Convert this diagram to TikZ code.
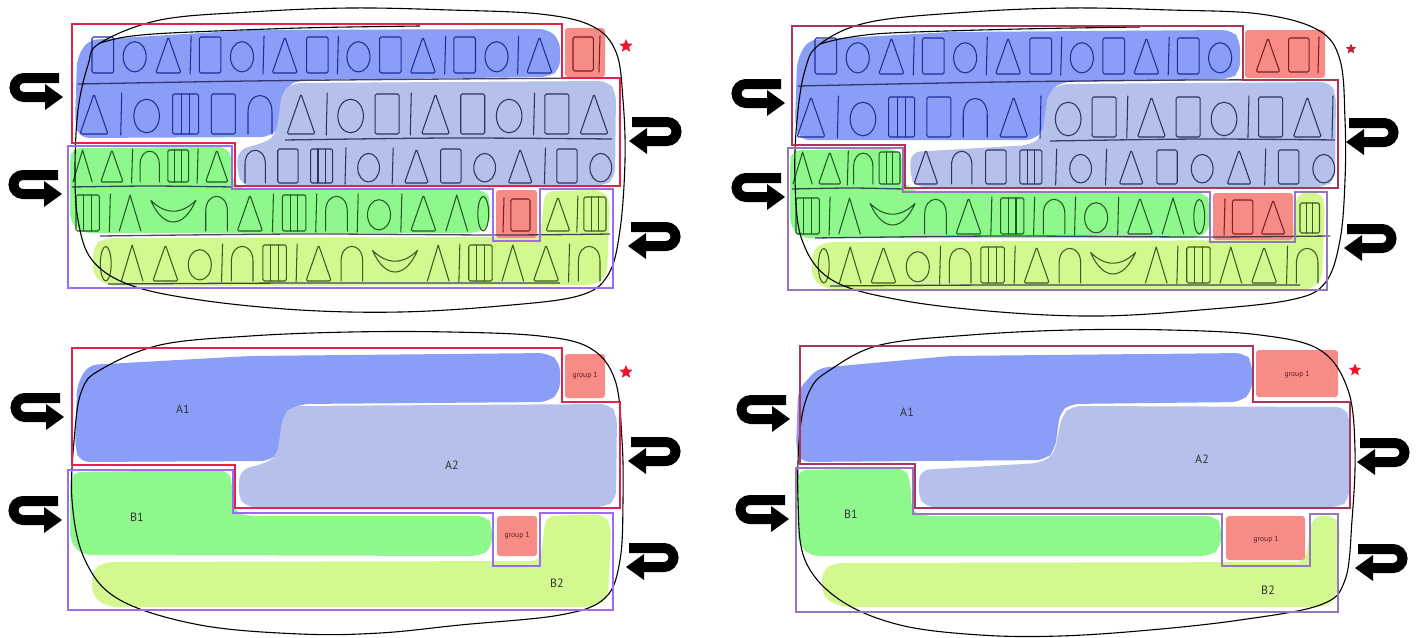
\documentclass[tikz,border=0pt]{standalone}
\usepackage{fontspec}
\setmainfont{PT Sans}
\usetikzlibrary{shapes.geometric}
\definecolor{cA1}{HTML}{8A9EF8}
\definecolor{cA2}{HTML}{B5C1EA}
\definecolor{cB1}{HTML}{8EF88C}
\definecolor{cB2}{HTML}{D3F890}
\definecolor{cG}{HTML}{F78B86}
\definecolor{redL}{HTML}{E2244C}
\definecolor{redR}{HTML}{B03459}
\definecolor{purL}{HTML}{9D6CF0}
\definecolor{purR}{HTML}{9876BC}
\definecolor{inkA1}{HTML}{1E2C9C}
\definecolor{inkA2}{HTML}{2B3268}
\definecolor{inkB1}{HTML}{1D5A1D}
\definecolor{inkB2}{HTML}{3F5A1A}
\definecolor{inkG}{HTML}{7A1E22}
\definecolor{starL}{HTML}{EE1430}
\definecolor{starR}{HTML}{C02038}
\definecolor{sepc}{HTML}{262650}
% glyph widths (in units of glyph height)
\def\gwR{0.6}\def\gwO{0.66}\def\gwT{0.7}\def\gwB{0}\def\gwN{0.6}
\def\gwM{0.65}\def\gwL{0.6}\def\gwV{1.25}\def\gwE{0.32}
% glyphs: #1 left x, #2 bottom y, #3 height
\newcommand\glR[3]{\draw[rounded corners=1.5] (#1,#2) rectangle ++(0.6*#3,-#3);}
\newcommand\glO[3]{\draw (#1+0.33*#3,#2-0.45*#3) ellipse[x radius=0.32*#3,y radius=0.42*#3];}
\newcommand\glT[3]{\draw[rounded corners=1.5] (#1,#2) -- (#1+0.35*#3,#2-#3) -- (#1+0.7*#3,#2) -- cycle;}
\newcommand\glB[3]{\draw (#1,#2+1) -- (#1+1,#2-#3-1);}
\newcommand\glN[3]{\draw (#1,#2) -- (#1,#2-0.55*#3) .. controls (#1,#2-1.1*#3) and (#1+0.6*#3,#2-1.1*#3) .. (#1+0.6*#3,#2-0.55*#3) -- (#1+0.6*#3,#2);}
\newcommand\glM[3]{\draw[rounded corners=1.5] (#1,#2) rectangle ++(0.65*#3,-#3);
  \draw (#1+0.22*#3,#2) -- ++(0,-#3) (#1+0.43*#3,#2) -- ++(0,-#3);}
\newcommand\glL[3]{\draw (#1,#2) -- (#1+0.3*#3,#2-#3) -- (#1+0.6*#3,#2);}
\newcommand\glV[3]{\draw (#1,#2-0.85*#3) .. controls (#1+0.35*#3,#2-0.05*#3) and (#1+0.9*#3,#2-0.05*#3) .. (#1+1.25*#3,#2-0.85*#3) .. controls (#1+0.85*#3,#2-0.45*#3) and (#1+0.4*#3,#2-0.45*#3) .. (#1,#2-0.85*#3) -- cycle;}
\newcommand\glE[3]{\draw (#1+0.16*#3,#2-0.48*#3) ellipse[x radius=0.15*#3,y radius=0.48*#3];}
% row of glyphs fitted between x0 and x1: #1 x0, #2 x1, #3 bottom y, #4 height, #5 list
\newcommand\glyphrow[5]{%
  \gdef\gsum{0}\gdef\gcnt{0}%
  \foreach \g in {#5}{\pgfmathsetmacro\gtmp{\gsum+\csname gw\g\endcsname*#4}\xdef\gsum{\gtmp}%
    \pgfmathsetmacro\gtmp{\gcnt+1}\xdef\gcnt{\gtmp}}%
  \pgfmathsetmacro\gtmp{(#2-#1-\gsum)/(\gcnt-1)}\xdef\ggap{\gtmp}%
  \xdef\gx{#1}%
  \foreach \g in {#5}{\csname gl\g\endcsname{\gx}{#3}{#4}%
    \pgfmathsetmacro\gtmp{\gx+\csname gw\g\endcsname*#4+\ggap}\xdef\gx{\gtmp}}%
}
\begin{document}
\begin{tikzpicture}[x=1pt,y=-1pt,
  region/.style={rounded corners=9},
  gbox/.style={fill=cG,rounded corners=3},
  glyph/.style={line width=1.05,line cap=round,line join=round},
  sep/.style={line width=1.3,sepc,opacity=0.85},
  blob/.style={black,line width=1.1},
  lab/.style={font=\fontsize{12}{14}\selectfont,text=black!80,inner sep=1},
  glab/.style={font=\fontsize{7.5}{9}\selectfont,text=inkG!80!black,inner sep=1},
  starnode/.style={star,star points=5,star point ratio=2.2,inner sep=0,minimum size=#1},
  larr/.pic={\draw[line width=10] (50,5) -- (15,5) arc[start angle=-90,end angle=-270,radius=9.5] -- (38,24);
    \fill (36,11) -- (54,24) -- (36,37) -- cycle;},
  rarr/.pic={\draw[line width=10] (3,5) -- (38,5) arc[start angle=-90,end angle=90,radius=9.5] -- (16,24);
    \fill (18,11) -- (0,24) -- (18,37) -- cycle;}
]
\useasboundingbox (0,0) rectangle (1423,637);
\fill[white] (0,0) rectangle (1423,637);

%================ TOP LEFT =================
\fill[cA1,region] (88,40) -- (250,30) -- (548,29) -- (560,40) -- (560,70) -- (548,77) -- (300,80) -- (286,86) -- (281,125) -- (270,137) -- (80,138) -- (75,124) -- (77,58) -- cycle;
\fill[cA2,region] (292,83) -- (608,81) -- (616,92) -- (615,178) -- (604,186) -- (242,186) -- (237,170) -- (238,150) -- (266,142) -- (276,135) -- (282,92) -- cycle;
\fill[cB1,region] (72,148) -- (228,147) -- (232,160) -- (232,182) -- (244,190) -- (486,190) -- (490,200) -- (490,225) -- (478,233) -- (82,233) -- (70,222) -- (70,158) -- cycle;
\fill[cB2,region] (545,191) -- (603,190) -- (610,200) -- (607,276) -- (595,285) -- (108,286) -- (93,276) -- (93,246) -- (104,238) -- (540,237) -- cycle;
\fill[gbox] (565,28) rectangle (605,77);
\fill[gbox] (496,190) rectangle (537,238);

\begin{scope}[glyph,inkA1]
\glyphrow{92}{552}{73}{36}{R,O,T,B,R,O,B,T,R,B,O,R,T,B,R,O,B,T}
\glyphrow{80}{272}{134}{40}{T,B,O,M,R,N}
\end{scope}
\begin{scope}[glyph,inkA2]
\glyphrow{287}{608}{134}{40}{T,B,O,R,B,T,R,O,B,R,T}
\glyphrow{245}{612}{183}{34}{N,R,M,B,O,B,T,R,O,T,B,R,O}
\end{scope}
\begin{scope}[glyph,inkB1]
\glyphrow{73}{228}{182}{32}{L,T,B,N,M,B,T}
\glyphrow{76}{489}{231}{36}{M,B,L,V,N,T,B,M,B,N,B,O,B,T,L,E}
\end{scope}
\begin{scope}[glyph,inkB2]
\glyphrow{546}{606}{231}{34}{T,B,M}
\glyphrow{100}{600}{281}{36}{E,L,T,O,B,N,M,B,T,N,V,L,B,M,L,T,B,N}
\end{scope}
\begin{scope}[glyph,inkG]
\glyphrow{573}{599}{71}{34}{R,B}
\glyphrow{503}{530}{231}{32}{B,R}
\end{scope}

\draw[sep] plot[smooth] coordinates {(78,84) (250,81) (450,79) (615,78)};
\draw[sep] plot[smooth] coordinates {(285,140) (450,138) (612,139)};
\draw[sep] plot[smooth] coordinates {(72,187) (150,186) (232,187)};
\draw[sep] plot[smooth] coordinates {(100,236) (300,234) (500,235) (610,234)};
\draw[sep] plot[smooth] coordinates {(108,284) (300,283) (560,283)};
\draw[blob] plot[smooth] coordinates {(100,43) (125,37) (170,33) (300,28) (420,26)};
\draw[blob] plot[smooth cycle,tension=0.6] coordinates {(100,43) (160,20) (250,12) (350,8) (450,10) (540,14) (592,26) (616,52) (623,100) (625,160) (620,230) (608,275) (578,296) (500,306) (400,312) (300,310) (200,300) (130,285) (92,260) (78,220) (75,170) (78,110) (88,65)};

\draw[redL,line width=2] (72,24) -- (562,24) -- (562,78) -- (620,78) -- (620,186) -- (235,186) -- (235,143) -- (72,143) -- cycle;
\draw[purL,line width=2] (68,146) -- (232,146) -- (232,189) -- (493,189) -- (493,241) -- (540,241) -- (540,189) -- (613,189) -- (613,288) -- (68,288) -- cycle;
\node[starnode=14,fill=starL] (s1) at (626,46) {};
\pic at (9,73) {larr};
\pic at (8,170) {larr};
\pic at (629,117) {rarr};
\pic at (628,222) {rarr};

%================ TOP RIGHT =================
\fill[cA1,region] (808,40) -- (950,32) -- (1232,30) -- (1240,40) -- (1240,72) -- (1230,79) -- (1062,82) -- (1050,90) -- (1046,128) -- (1034,140) -- (800,140) -- (795,126) -- (797,60) -- cycle;
\fill[cA2,region] (1060,84) -- (1330,82) -- (1336,94) -- (1335,180) -- (1325,187) -- (915,187) -- (910,175) -- (911,152) -- (1030,145) -- (1042,137) -- (1048,92) -- cycle;
\fill[cB1,region] (792,150) -- (898,149) -- (903,160) -- (903,183) -- (915,192) -- (1205,192) -- (1210,202) -- (1210,230) -- (1198,238) -- (800,238) -- (790,226) -- (790,160) -- cycle;
\fill[cB2,region] (1297,193) -- (1320,192) -- (1325,202) -- (1322,280) -- (1310,290) -- (830,290) -- (812,280) -- (812,250) -- (825,242) -- (1292,240) -- cycle;
\fill[gbox] (1245,30) rectangle (1325,78);
\fill[gbox] (1213,193) rectangle (1293,240);

\begin{scope}[glyph,inkA1]
\glyphrow{815}{1232}{74}{36}{R,O,T,B,R,O,B,T,R,B,O,R,T,B,R,O}
\glyphrow{797}{1040}{137}{40}{T,B,O,M,R,N,T,B}
\end{scope}
\begin{scope}[glyph,inkA2]
\glyphrow{1055}{1332}{137}{40}{O,R,B,T,R,O,B,R,T,B}
\glyphrow{914}{1335}{184}{34}{T,N,R,M,B,O,B,T,R,O,T,B,R,O}
\end{scope}
\begin{scope}[glyph,inkB1]
\glyphrow{793}{900}{184}{32}{L,T,B,N,M}
\glyphrow{796}{1205}{234}{36}{M,B,L,V,N,T,B,M,B,N,B,O,B,T,L,E}
\end{scope}
\begin{scope}[glyph,inkB2]
\glM{1300}{233}{30}
\glyphrow{818}{1318}{283}{36}{E,L,T,O,B,N,M,B,T,N,V,L,B,M,L,T,B,N}
\end{scope}
\begin{scope}[glyph,inkG]
\glyphrow{1256}{1318}{72}{34}{T,R,B}
\glyphrow{1224}{1285}{234}{34}{B,R,T}
\end{scope}

\draw[sep] plot[smooth] coordinates {(798,86) (1000,82) (1200,80) (1338,80)};
\draw[sep] plot[smooth] coordinates {(1050,141) (1200,139) (1335,140)};
\draw[sep] plot[smooth] coordinates {(792,189) (850,188) (903,189)};
\draw[sep] plot[smooth] coordinates {(815,238) (1000,236) (1200,237) (1330,236)};
\draw[sep] plot[smooth] coordinates {(830,286) (1000,285) (1300,285)};
\draw[blob] plot[smooth] coordinates {(820,44) (845,38) (890,33) (1020,29) (1140,27)};
\draw[blob] plot[smooth cycle,tension=0.6] coordinates {(820,44) (870,22) (970,12) (1070,8) (1170,10) (1260,14) (1318,30) (1340,60) (1345,120) (1345,180) (1340,240) (1325,283) (1290,300) (1200,310) (1100,316) (1000,312) (900,300) (832,280) (802,240) (795,180) (797,120) (805,70)};

\draw[redR,line width=2] (792,26) -- (1243,26) -- (1243,80) -- (1338,80) -- (1338,188) -- (905,188) -- (905,145) -- (792,145) -- cycle;
\draw[purR,line width=2] (788,148) -- (903,148) -- (903,192) -- (1210,192) -- (1210,242) -- (1295,242) -- (1295,192) -- (1327,192) -- (1327,290) -- (788,290) -- cycle;
\node[starnode=11,fill=starR] (s2) at (1351,49) {};
\pic at (731,79) {larr};
\pic at (731,173) {larr};
\pic at (1346,118) {rarr};
\pic at (1344,224) {rarr};

%================ BOTTOM LEFT =================
\fill[cA1,region] (88,365) -- (250,356) -- (548,353) -- (560,362) -- (560,392) -- (548,402) -- (300,404) -- (286,412) -- (281,450) -- (270,461) -- (80,462) -- (75,448) -- (77,385) -- cycle;
\fill[cA2,region] (292,406) -- (610,404) -- (617,415) -- (616,500) -- (605,507) -- (245,507) -- (238,495) -- (240,470) -- (266,463) -- (277,456) -- (283,415) -- cycle;
\fill[cB1,region] (72,472) -- (228,470) -- (232,482) -- (233,510) -- (245,516) -- (487,516) -- (492,525) -- (492,548) -- (480,556) -- (82,555) -- (70,542) -- (70,484) -- cycle;
\fill[cB2,region] (546,516) -- (604,514) -- (611,526) -- (608,598) -- (595,607) -- (108,607) -- (92,596) -- (92,570) -- (104,562) -- (540,561) -- cycle;
\fill[gbox] (565,354) rectangle (605,398);
\fill[gbox] (497,516) rectangle (537,556);
\node[glab] (g1) at (585,376) {group 1};
\node[glab] (g2) at (517,536) {group 1};
\node[lab] (a1) at (183,409) {A1};
\node[lab] (a2) at (452,465) {A2};
\node[lab] (b1) at (137,517) {B1};
\node[lab] (b2) at (557,583) {B2};
\draw[blob] plot[smooth cycle,tension=0.6] coordinates {(100,370) (160,345) (250,336) (350,332) (450,332) (540,336) (590,348) (615,380) (622,440) (623,500) (620,560) (605,598) (560,615) (460,625) (380,633) (300,634) (200,625) (120,600) (85,560) (72,500) (75,430) (82,390)};
\draw[redL,line width=2] (72,348) -- (562,348) -- (562,402) -- (620,402) -- (620,508) -- (235,508) -- (235,465) -- (72,465) -- cycle;
\draw[purL,line width=2] (68,470) -- (233,470) -- (233,513) -- (493,513) -- (493,566) -- (540,566) -- (540,513) -- (613,513) -- (613,610) -- (68,610) -- cycle;
\node[starnode=14,fill=starL] (s3) at (626,372) {};
\pic at (10,393) {larr};
\pic at (8,496) {larr};
\pic at (628,437) {rarr};
\pic at (626,543) {rarr};

%================ BOTTOM RIGHT =================
\fill[cA1,region] (818,368) -- (950,356) -- (1245,353) -- (1252,362) -- (1252,392) -- (1240,402) -- (1070,404) -- (1060,412) -- (1055,450) -- (1045,460) -- (800,462) -- (796,448) -- (798,390) -- cycle;
\fill[cA2,region] (1072,406) -- (1345,407) -- (1350,420) -- (1349,500) -- (1340,507) -- (925,507) -- (918,495) -- (920,470) -- (1040,463) -- (1054,455) -- (1062,415) -- cycle;
\fill[cB1,region] (798,470) -- (905,468) -- (910,480) -- (912,512) -- (925,516) -- (1216,516) -- (1221,525) -- (1221,548) -- (1210,556) -- (810,556) -- (798,544) -- (797,484) -- cycle;
\fill[cB2,region] (1313,516) -- (1334,515) -- (1340,526) -- (1337,598) -- (1325,607) -- (840,607) -- (822,596) -- (822,570) -- (835,563) -- (1305,562) -- cycle;
\fill[gbox] (1256,350) rectangle (1338,397);
\fill[gbox] (1226,516) rectangle (1305,560);
\node[glab] (g3) at (1297,375) {group 1};
\node[glab] (g4) at (1266,540) {group 1};
\node[lab] (a3) at (907,412) {A1};
\node[lab] (a4) at (1202,459) {A2};
\node[lab] (b3) at (851,514) {B1};
\node[lab] (b4) at (1268,590) {B2};
\draw[blob] plot[smooth cycle,tension=0.6] coordinates {(830,370) (880,345) (970,335) (1070,330) (1170,330) (1260,335) (1320,350) (1348,390) (1355,450) (1352,520) (1345,580) (1320,605) (1240,620) (1150,630) (1060,636) (980,635) (900,625) (840,600) (805,560) (798,500) (800,430) (810,390)};
\draw[redR,line width=2] (800,346) -- (1253,346) -- (1253,402) -- (1350,402) -- (1350,508) -- (915,508) -- (915,464) -- (800,464) -- cycle;
\draw[purR,line width=2] (796,468) -- (913,468) -- (913,514) -- (1222,514) -- (1222,566) -- (1310,566) -- (1310,514) -- (1338,514) -- (1338,612) -- (796,612) -- cycle;
\node[starnode=13,fill=starL] (s4) at (1355,370) {};
\pic at (736,395) {larr};
\pic at (735,495) {larr};
\pic at (1357,438) {rarr};
\pic at (1355,544) {rarr};
\end{tikzpicture}
\end{document}
